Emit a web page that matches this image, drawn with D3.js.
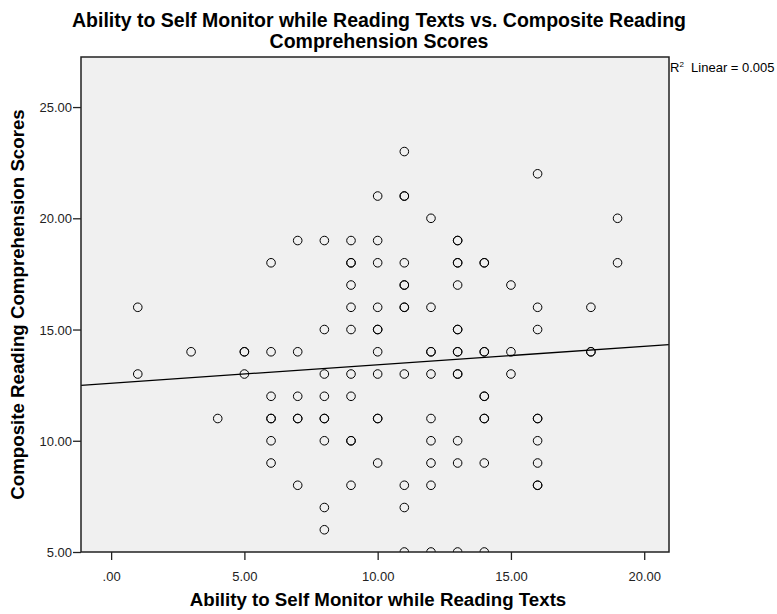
<!DOCTYPE html>
<html>
<head>
<meta charset="utf-8">
<script src="https://cdn.jsdelivr.net/npm/d3@7"></script>
<style>
  body { margin: 0; background: #fff; }
  text { font-family: "Liberation Sans", Arial, sans-serif; }
</style>
</head>
<body>
<script>
// self monitor score -> list of composite reading scores at that x
let monitor = [1, 3, 4, 5, 6, 7, 8, 9, 10, 11, 12, 13, 14, 15, 16, 18, 19];
let reading = [
  [16, 13],
  [14],
  [11],
  [14, 14, 13],
  [18, 14, 12, 11, 11, 10, 9],
  [19, 14, 12, 11, 11, 8],
  [19, 15, 13, 12, 11, 11, 10, 7, 6],
  [19, 18, 18, 17, 16, 15, 13, 12, 10, 10, 8],
  [21, 19, 18, 16, 15, 15, 14, 13, 11, 11, 9],
  [23, 21, 21, 18, 17, 17, 16, 16, 13, 8, 7, 5],
  [20, 16, 14, 14, 13, 11, 10, 9, 8, 5],
  [19, 19, 18, 18, 17, 15, 15, 14, 14, 13, 13, 10, 9, 5],
  [18, 18, 14, 14, 12, 12, 11, 11, 9, 5],
  [17, 14, 13],
  [22, 16, 15, 11, 11, 10, 9, 8, 8],
  [16, 14, 14],
  [20, 18]
];
let x_ticks = [0, 5, 10, 15, 20];
let y_ticks = [5, 10, 15, 20, 25];
let title = ["Ability to Self Monitor while Reading Texts vs. Composite Reading", "Comprehension Scores"];
let x_label = "Ability to Self Monitor while Reading Texts";
let y_label = "Composite Reading Comprehension Scores";
let r2_text = "Linear = 0.005";

let width = 777, height = 614;
let margin = { top: 57, right: 108, bottom: 62, left: 81 };

let points = [];
monitor.forEach((m, i) => reading[i].forEach(r => points.push({ x: m, y: r })));

let fmt = v => v == 0 ? ".00" : d3.format(".2f")(v);

let svg = d3.select("body").append("svg")
  .attr("width", width).attr("height", height);

let x = d3.scaleLinear().domain([-1.13, 20.93]).range([margin.left, width - margin.right]);
let y = d3.scaleLinear().domain([5, 27.25]).range([height - margin.bottom, margin.top]);

let pw = width - margin.right - margin.left, ph = height - margin.bottom - margin.top;

svg.append("clipPath").attr("id", "plot")
  .append("rect")
    .attr("x", margin.left).attr("y", margin.top)
    .attr("width", pw).attr("height", ph);

svg.append("rect")
  .attr("x", margin.left).attr("y", margin.top)
  .attr("width", pw).attr("height", ph)
  .attr("fill", "#f0f0f0");

// least squares fit
let mx = d3.mean(points, d => d.x), my = d3.mean(points, d => d.y);
let sxy = d3.sum(points, d => (d.x - mx) * (d.y - my));
let sxx = d3.sum(points, d => (d.x - mx) * (d.x - mx));
let slope = sxy / sxx, icpt = my - slope * mx;

let g = svg.append("g").attr("clip-path", "url(#plot)");
g.selectAll("circle")
  .data(points)
  .join("circle")
    .attr("cx", d => x(d.x))
    .attr("cy", d => y(d.y))
    .attr("r", 4.3)
    .attr("fill", "none")
    .attr("stroke", "#000")
    .attr("stroke-width", 1);

let xd = x.domain();
g.append("line")
  .attr("x1", x(xd[0])).attr("y1", y(icpt + slope * xd[0]))
  .attr("x2", x(xd[1])).attr("y2", y(icpt + slope * xd[1]))
  .attr("stroke", "#000").attr("stroke-width", 1.3);

svg.append("rect")
  .attr("x", margin.left).attr("y", margin.top)
  .attr("width", pw).attr("height", ph)
  .attr("fill", "none").attr("stroke", "#222").attr("stroke-width", 1.5);

let xa = svg.append("g")
  .attr("transform", `translate(0,${height - margin.bottom})`)
  .call(d3.axisBottom(x).tickValues(x_ticks).tickFormat(fmt).tickSize(8).tickSizeOuter(0));
let ya = svg.append("g")
  .attr("transform", `translate(${margin.left},0)`)
  .call(d3.axisLeft(y).tickValues(y_ticks).tickFormat(fmt).tickSize(8).tickSizeOuter(0));
[xa, ya].forEach(a => {
  a.select(".domain").remove();
  a.selectAll("line").attr("stroke", "#222").attr("stroke-width", 1.3);
  a.selectAll("text").attr("font-size", 13).attr("fill", "#222")
    .attr("font-family", "'Liberation Sans', Arial, sans-serif");
});
xa.selectAll("text").attr("dy", "1.35em");
ya.selectAll("text").attr("dy", "0.35em").attr("x", -9);

svg.append("g").selectAll("text")
  .data(title)
  .join("text")
    .attr("x", 379).attr("y", (d, i) => 27 + i * 21)
    .attr("text-anchor", "middle")
    .attr("font-weight", "bold").attr("font-size", 19.5)
    .text(d => d);

svg.append("text")
  .attr("x", 378).attr("y", 606)
  .attr("text-anchor", "middle")
  .attr("font-weight", "bold").attr("font-size", 18.7)
  .text(x_label);

svg.append("text")
  .attr("transform", `translate(24,${(margin.top + height - margin.bottom) / 2}) rotate(-90)`)
  .attr("text-anchor", "middle")
  .attr("font-weight", "bold").attr("font-size", 18.7)
  .text(y_label);

let r2 = svg.append("text")
  .attr("x", 670).attr("y", 72)
  .attr("font-size", 13);
r2.append("tspan").text("R");
r2.append("tspan").attr("font-size", 8).attr("dy", -5).text("2");
r2.append("tspan").attr("dy", 5).text("  " + r2_text).attr("xml:space", "preserve");
</script>
</body>
</html>
